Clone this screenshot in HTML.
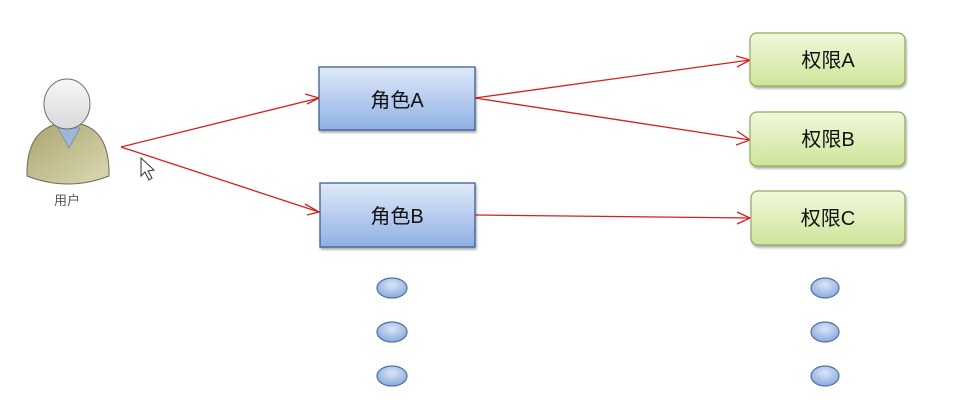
<!DOCTYPE html>
<html><head><meta charset="utf-8"><style>
html,body{margin:0;background:#fff;overflow:hidden;width:963px;height:419px;}
svg{display:block;}
svg text{font-family:"Liberation Sans","Noto Sans CJK SC",sans-serif;}
</style></head><body>
<svg width="963" height="419" viewBox="0 0 963 419" xmlns="http://www.w3.org/2000/svg">
<defs>
<linearGradient id="bl" x1="0" y1="0" x2="0" y2="1"><stop offset="0" stop-color="#dfe9f8"/><stop offset="1" stop-color="#8fb0e4"/></linearGradient>
<linearGradient id="gr" x1="0" y1="0" x2="0" y2="1"><stop offset="0" stop-color="#f1f8dc"/><stop offset="1" stop-color="#cfe49a"/></linearGradient>
<linearGradient id="bd" x1="0" y1="0" x2="1" y2="1"><stop offset="0" stop-color="#a9a66e"/><stop offset="1" stop-color="#dcd8b4"/></linearGradient>
<linearGradient id="hd" x1="0" y1="0" x2="0" y2="1"><stop offset="0" stop-color="#f8f8f8"/><stop offset="1" stop-color="#d8d8da"/></linearGradient>
<radialGradient id="el" cx="0.5" cy="0.35" r="0.6"><stop offset="0" stop-color="#dbe6f8"/><stop offset="1" stop-color="#8eaee0"/></radialGradient>
<filter id="sh"><feDropShadow dx="1" dy="2" stdDeviation="1.2" flood-opacity="0.35"/></filter>
</defs>
<path d="M27,176 Q26,132 57,124 L81,124 Q110,132 109,176 Q68,192 27,176 Z" fill="url(#bd)" stroke="#6c6c5c" stroke-width="1"/>
<path d="M58,128 L69,148 L80,128 Z" fill="#9fb7d6" stroke="#6c7c8c" stroke-width="0.6"/>
<ellipse cx="67" cy="104" rx="23" ry="25" fill="url(#hd)" stroke="#6c6c6c" stroke-width="1"/>
<text x="67" y="205" font-size="13" fill="#555" text-anchor="middle">用户</text>
<path d="M141,158 L141,176 L145,172 L149,180 L152,178 L148,171 L154,170 Z" fill="#fff" stroke="#333" stroke-width="1"/>
<g stroke="#d42020" stroke-width="1.3" fill="none">
<path d="M121,147 L319,98 M121,147 L319,212 M475,98 L750,60 M475,98 L750,140 M475,215 L750,218"/>
<path d="M305,94 L319,98 L307,104 M305,204 L319,212 L307,215 M736,56 L750,60 L737,67 M737,131 L750,140 L736,145 M737,212 L750,218 L737,224"/>
</g>
<rect x="319" y="67" width="156" height="63" fill="url(#bl)" stroke="#3f5f8f" stroke-width="1.3" filter="url(#sh)"/>
<text x="397" y="107" font-size="20" text-anchor="middle" fill="#111">角色A</text>
<rect x="320" y="183" width="155" height="64" fill="url(#bl)" stroke="#3f5f8f" stroke-width="1.3" filter="url(#sh)"/>
<text x="397" y="223" font-size="20" text-anchor="middle" fill="#111">角色B</text>
<g fill="url(#gr)" stroke="#8faa5a" stroke-width="1.2" filter="url(#sh)">
<rect x="750" y="33" width="155" height="53" rx="7"/>
<rect x="750" y="112" width="155" height="54" rx="7"/>
<rect x="751" y="191" width="154" height="54" rx="7"/>
</g>
<g font-size="20" text-anchor="middle" fill="#111">
<text x="828" y="67">权限A</text>
<text x="828" y="146">权限B</text>
<text x="828" y="225">权限C</text>
</g>
<g fill="url(#el)" stroke="#4f6f9f" stroke-width="1.2">
<ellipse cx="392" cy="288" rx="15" ry="10"/>
<ellipse cx="392" cy="332" rx="15" ry="10"/>
<ellipse cx="392" cy="376" rx="15" ry="10"/>
<ellipse cx="825" cy="288" rx="14" ry="10"/>
<ellipse cx="825" cy="332" rx="14" ry="10"/>
<ellipse cx="825" cy="376" rx="14" ry="10"/>
</g>
</svg>
</body></html>
